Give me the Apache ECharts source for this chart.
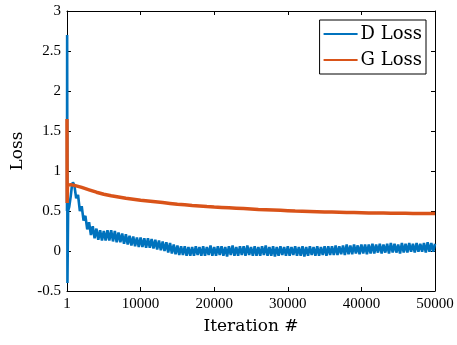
<!DOCTYPE html>
<html>
<head>
<meta charset="utf-8">
<script src="https://cdn.jsdelivr.net/npm/echarts@6/dist/echarts.min.js"></script>
<style>
  html, body { margin: 0; padding: 0; background: #fff; }
  #chart { width: 457px; height: 345px; }
</style>
</head>
<body>
<div id="chart"></div>
<script>
// start of training (first few hundred iterations)
const dHeadIter = [1, 20, 60, 150, 300, 500, 650, 800];
const dHead = [0.5, 2.7, -0.4, 0.5, 0.55, 0.68, 0.8, 0.86];
const gHeadIter = [1, 20, 60, 200, 500];
const gHead = [1.65, 0.6, 0.82, 0.84, 0.83];

// D loss, read every 250 iterations from 1000 to 50000 (noisy band)
const dStart = 1000, dStep = 250;
const dLoss = [
  0.82, 0.66, 0.70, 0.50, 0.56, 0.38, 0.44, 0.27, 0.36, 0.20, 0.31, 0.16, 0.28, 0.14, 0.26, 0.13, 0.25, 0.13, 0.26, 0.13,
  0.26, 0.12, 0.25, 0.11, 0.23, 0.11, 0.22, 0.09, 0.21, 0.08, 0.19, 0.07, 0.18, 0.06, 0.17, 0.05, 0.17, 0.05, 0.16, 0.04,
  0.16, 0.04, 0.15, 0.03, 0.14, 0.02, 0.13, 0.01, 0.12, 0.00, 0.11, -0.02, 0.10, -0.03, 0.08, -0.04, 0.07, -0.05, 0.06, -0.05,
  0.06, -0.06, 0.05, -0.06, 0.05, -0.06, 0.06, -0.05, 0.05, -0.06, 0.06, -0.06, 0.05, -0.05, 0.07, -0.06, 0.05, -0.06, 0.06, -0.05,
  0.06, -0.06, 0.05, -0.07, 0.06, -0.05, 0.07, -0.06, 0.05, -0.06, 0.06, -0.05, 0.06, -0.06, 0.07, -0.05, 0.05, -0.06, 0.06, -0.06,
  0.05, -0.06, 0.06, -0.05, 0.07, -0.06, 0.05, -0.06, 0.06, -0.07, 0.05, -0.06, 0.06, -0.05, 0.05, -0.06, 0.06, -0.06, 0.05, -0.05,
  0.06, -0.06, 0.05, -0.06, 0.06, -0.07, 0.05, -0.06, 0.06, -0.05, 0.05, -0.06, 0.06, -0.06, 0.05, -0.05, 0.06, -0.06, 0.06, -0.05,
  0.06, -0.05, 0.07, -0.05, 0.06, -0.04, 0.07, -0.05, 0.08, -0.04, 0.07, -0.04, 0.08, -0.03, 0.07, -0.04, 0.08, -0.03, 0.08, -0.04,
  0.08, -0.03, 0.09, -0.03, 0.08, -0.02, 0.09, -0.03, 0.08, -0.02, 0.09, -0.03, 0.10, -0.02, 0.09, -0.02, 0.08, -0.03, 0.10, -0.02,
  0.09, -0.02, 0.10, -0.01, 0.09, -0.02, 0.10, -0.01, 0.09, -0.01, 0.10, -0.02, 0.11, -0.01, 0.10, -0.01, 0.09
];

// G loss, read every 1000 iterations from 1000 to 50000
const gStart = 1000, gStep = 1000;
const gLoss = [
  0.82, 0.795, 0.765, 0.735, 0.71, 0.69, 0.675, 0.66, 0.648, 0.635,
  0.625, 0.615, 0.605, 0.595, 0.585, 0.578, 0.57, 0.563, 0.556, 0.55,
  0.545, 0.54, 0.535, 0.53, 0.525, 0.52, 0.516, 0.512, 0.508, 0.504,
  0.50, 0.497, 0.494, 0.491, 0.488, 0.486, 0.484, 0.482, 0.48, 0.478,
  0.476, 0.475, 0.474, 0.473, 0.472, 0.471, 0.47, 0.47, 0.469, 0.469
];

const pairs = (headIter, head, start, step, vals) => {
  const out = headIter.map((x, i) => [x, head[i]]);
  vals.forEach((v, i) => out.push([start + i * step, v]));
  return out;
};

const tickFont = { fontFamily: 'Liberation Serif', fontSize: 15, color: '#000' };
const nameFont = { fontFamily: 'DejaVu Serif', fontSize: 17, color: '#000' };
const lineBlack = { onZero: false, lineStyle: { color: '#000', width: 1 } };
const tickIn = { show: true, inside: true, length: 4, lineStyle: { color: '#000' } };

const chart = echarts.init(document.getElementById('chart'));
chart.setOption({
  animation: false,
  grid: { left: 67, right: 22, top: 11, bottom: 54 },
  legend: {
    orient: 'vertical',
    right: 31,
    top: 20,
    padding: [4, 4, 4, 4],
    itemGap: 6,
    itemWidth: 34,
    itemHeight: 2,
    icon: 'rect',
    borderColor: '#000',
    borderWidth: 1,
    backgroundColor: '#fff',
    textStyle: { fontFamily: 'DejaVu Serif', fontSize: 18, color: '#000', lineHeight: 20, padding: [0, 0, 0, -2] },
    data: ['D Loss', 'G Loss']
  },
  xAxis: [
    {
      type: 'value', min: 0, max: 50000, interval: 10000,
      name: 'Iteration #', nameLocation: 'middle', nameGap: 27, nameTextStyle: nameFont,
      axisLine: { show: true, ...lineBlack }, splitLine: { show: false },
      axisTick: tickIn,
      axisLabel: { ...tickFont, margin: 6, formatter: v => (v === 0 ? '1' : String(v)) }
    },
    {
      type: 'value', position: 'top', min: 0, max: 50000, interval: 10000,
      axisLine: { show: true, ...lineBlack }, splitLine: { show: false },
      axisTick: tickIn,
      axisLabel: { show: false }
    }
  ],
  yAxis: [
    {
      type: 'value', min: -0.5, max: 3, interval: 0.5,
      name: 'Loss', nameLocation: 'middle', nameGap: 40, nameTextStyle: nameFont,
      axisLine: { show: true, ...lineBlack }, splitLine: { show: false },
      axisTick: tickIn,
      axisLabel: { ...tickFont, margin: 6 }
    },
    {
      type: 'value', position: 'right', min: -0.5, max: 3, interval: 0.5,
      axisLine: { show: true, ...lineBlack }, splitLine: { show: false },
      axisTick: tickIn,
      axisLabel: { show: false }
    }
  ],
  series: [
    {
      name: 'D Loss', type: 'line', showSymbol: false, symbol: 'none',
      color: '#0072BD', lineStyle: { width: 2.6 },
      data: pairs(dHeadIter, dHead, dStart, dStep, dLoss)
    },
    {
      name: 'G Loss', type: 'line', showSymbol: false, symbol: 'none',
      color: '#D95319', lineStyle: { width: 3.5 },
      data: pairs(gHeadIter, gHead, gStart, gStep, gLoss)
    }
  ]
});
</script>
</body>
</html>
